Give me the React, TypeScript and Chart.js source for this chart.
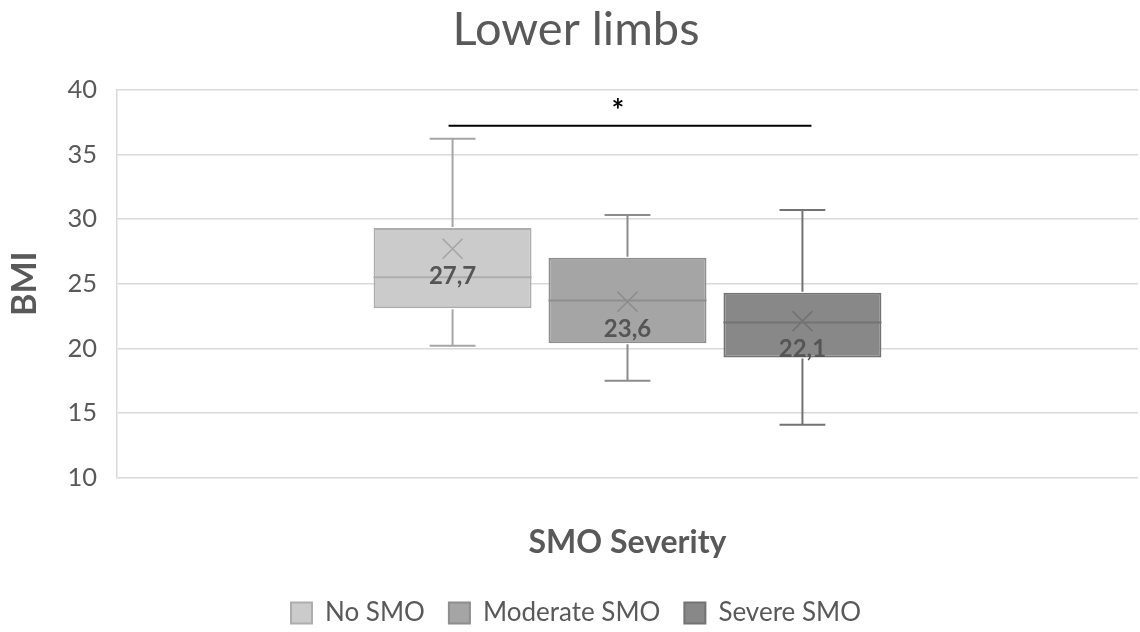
import React, { useEffect, useRef } from 'react';
import { Chart, registerables } from 'chart.js';

Chart.register(...registerables);

// ---- data ----
const categories = [''];
const groups = ['No SMO', 'Moderate SMO', 'Severe SMO'];
const minValues = [20.2, 17.5, 14.1];
const q1Values = [23.1, 20.4, 19.3];
const medianValues = [25.5, 23.7, 22.0];
const q3Values = [29.3, 27.0, 24.3];
const maxValues = [36.2, 30.3, 30.7];
const meanValues = [27.7, 23.6, 22.1];
const meanLabels = ['27,7', '23,6', '22,1'];
const sigPair = [0, 2]; // dataset indices joined by the significance bar
const sigLevel = [37.2];
const sigStarLevel = [38.8];

// ---- styles ----
const fills = ['#cbcbcb', '#a5a5a5', '#888888'];
const borders = ['#adadad', '#8e8e8e', '#737373'];
const whiskerColors = ['#a5a5a5', '#8c8c8c', '#737373'];
const textColor = '#595959';
const FONT = 'Lato, "Open Sans", sans-serif';

const boxExtras = {
  id: 'boxExtras',
  afterDatasetsDraw(chart: any) {
    const { ctx, scales } = chart;
    const y = scales.y;
    ctx.save();
    groups.forEach((_, i) => {
      const bar: any = chart.getDatasetMeta(i).data[0];
      if (!bar) return;
      const cx = bar.x;
      const half = bar.width / 2;
      const cap = half * 0.29;
      const yMin = y.getPixelForValue(minValues[i]);
      const yQ1 = y.getPixelForValue(q1Values[i]);
      const yQ3 = y.getPixelForValue(q3Values[i]);
      const yMax = y.getPixelForValue(maxValues[i]);
      const yMed = y.getPixelForValue(medianValues[i]);
      const yMean = y.getPixelForValue(meanValues[i]);

      ctx.strokeStyle = whiskerColors[i];
      ctx.lineWidth = 2;
      ctx.beginPath();
      ctx.moveTo(cx, yQ3 - 1);
      ctx.lineTo(cx, yMax);
      ctx.moveTo(cx - cap, yMax);
      ctx.lineTo(cx + cap, yMax);
      ctx.moveTo(cx, yQ1 + 1);
      ctx.lineTo(cx, yMin);
      ctx.moveTo(cx - cap, yMin);
      ctx.lineTo(cx + cap, yMin);
      ctx.stroke();

      // median
      ctx.strokeStyle = borders[i];
      ctx.lineWidth = 2;
      ctx.beginPath();
      ctx.moveTo(cx - half, yMed);
      ctx.lineTo(cx + half, yMed);
      ctx.stroke();

      // mean marker (x)
      const m = 10;
      ctx.strokeStyle = whiskerColors[i];
      ctx.lineWidth = 1.6;
      ctx.beginPath();
      ctx.moveTo(cx - m, yMean - m);
      ctx.lineTo(cx + m, yMean + m);
      ctx.moveTo(cx + m, yMean - m);
      ctx.lineTo(cx - m, yMean + m);
      ctx.stroke();

      // mean label
      ctx.fillStyle = '#555555';
      ctx.font = `bold 24px ${FONT}`;
      ctx.textAlign = 'center';
      ctx.textBaseline = 'middle';
      ctx.fillText(meanLabels[i], cx, yMean + 28);
    });

    // significance bar
    const b1: any = chart.getDatasetMeta(sigPair[0]).data[0];
    const b2: any = chart.getDatasetMeta(sigPair[1]).data[0];
    if (b1 && b2) {
      const x1 = b1.x - 4;
      const x2 = b2.x + 9;
      const yl = y.getPixelForValue(sigLevel[0]);
      ctx.strokeStyle = '#000000';
      ctx.lineWidth = 2;
      ctx.beginPath();
      ctx.moveTo(x1, yl);
      ctx.lineTo(x2, yl);
      ctx.stroke();
      ctx.fillStyle = '#000000';
      ctx.font = `bold 30px ${FONT}`;
      ctx.textAlign = 'center';
      ctx.textBaseline = 'middle';
      ctx.fillText('*', (x1 + x2) / 2 - 12, y.getPixelForValue(sigStarLevel[0]) + 6);
    }
    ctx.restore();
  },
};

export default function App() {
  const ref = useRef<HTMLCanvasElement | null>(null);

  useEffect(() => {
    document.body.style.margin = '0';
    if (!ref.current) return;
    const chart = new Chart(ref.current, {
      type: 'bar',
      data: {
        labels: categories,
        datasets: groups.map((g, i) => ({
          label: g,
          data: [[q1Values[i], q3Values[i]]],
          backgroundColor: fills[i],
          borderColor: borders[i],
          borderWidth: 2,
          borderSkipped: false,
          categoryPercentage: 0.514,
          barPercentage: 0.903,
        })) as any,
      },
      options: {
        responsive: false,
        animation: false,
        layout: { padding: { left: 14, right: 2, top: 0, bottom: -4 } },
        plugins: {
          title: {
            display: true,
            text: 'Lower limbs',
            color: textColor,
            font: { family: FONT, size: 47, weight: 'normal', lineHeight: 1.2 },
            padding: { top: 1.3, bottom: 31.9 },
          },
          legend: {
            position: 'bottom',
            labels: {
              boxWidth: 21,
              boxHeight: 21,
              padding: 24,
              color: textColor,
              font: { family: FONT, size: 26 },
            },
          },
          tooltip: { enabled: false },
        },
        scales: {
          x: {
            grid: { display: false, drawTicks: false },
            border: { display: false },
            ticks: { display: false },
            title: {
              display: true,
              text: 'SMO Severity',
              color: textColor,
              font: { family: FONT, size: 32, weight: 'bold', lineHeight: 1.2 },
              padding: { top: 45.6, bottom: 14.3 },
            },
          },
          y: {
            min: 10,
            max: 40,
            ticks: {
              stepSize: 5,
              padding: 20,
              color: textColor,
              font: { family: FONT, size: 25.5 },
            },
            grid: { color: '#d9d9d9', lineWidth: 1.5, drawTicks: false },
            border: { display: true, color: '#d9d9d9', width: 1.5 },
            title: {
              display: true,
              text: 'BMI',
              color: textColor,
              font: { family: FONT, size: 34, weight: 'bold', lineHeight: 1 },
              padding: { top: -6, bottom: 0 },
            },
            afterFit: (scale: any) => {
              scale.width = 103;
            },
          },
        },
      },
      plugins: [boxExtras],
    });
    return () => chart.destroy();
  }, []);

  return (
    <div style={{ width: 1140, height: 632 }}>
      <canvas ref={ref} width={1140} height={632} />
    </div>
  );
}
